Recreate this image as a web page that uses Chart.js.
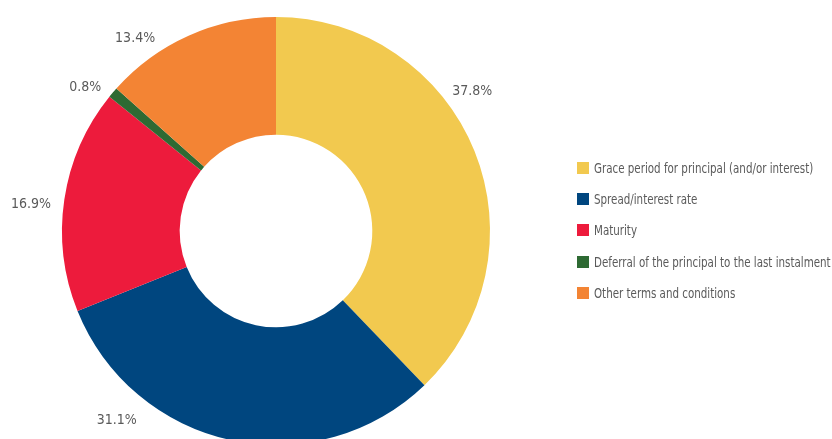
<!DOCTYPE html>
<html>
<head>
<meta charset="utf-8">
<script src="https://cdn.jsdelivr.net/npm/chart.js@4"></script>
<style>
  html, body { margin: 0; padding: 0; background: #fff; overflow: hidden; }
  #wrap { position: relative; width: 832px; height: 439px; overflow: hidden; }
  #chart { position: absolute; left: 0; top: 0; }
  #legend { position: absolute; left: 577px; top: 152px; width: 400px; margin: 0; padding: 0; list-style: none;
            font-family: "DejaVu Sans Condensed", "Liberation Sans Narrow", sans-serif;
            font-size: 14px; color: #5a5a5a; }
  #legend li { height: 31.3px; display: flex; align-items: center; white-space: nowrap; }
  #legend span.box { width: 12px; height: 12px; margin-right: 5px; flex: none; }
  #legend span.txt { flex: none; display: inline-block; transform: scaleX(0.818); transform-origin: 0 50%; }
</style>
</head>
<body>
<div id="wrap">
  <canvas id="chart" width="832" height="462"></canvas>
  <ul id="legend"></ul>
</div>
<script>
// Renegotiated credit terms, share of total (%)
const categories = [
  'Grace period for principal (and/or interest)',
  'Spread/interest rate',
  'Maturity',
  'Deferral of the principal to the last instalment',
  'Other terms and conditions',
];
const shares = [37.8, 31.1, 16.9, 0.8, 13.4];

const SLICE_COLORS = ['#F2C94F', '#00467F', '#ED1B3C', '#2E6A33', '#F38434'];
const TEXT_COLOR = '#5a5a5a';
const FONT = '"DejaVu Sans Condensed", "Liberation Sans Narrow", sans-serif';

// label placement per slice: angular shift from the slice centre (deg) and gap outside the ring (px)
const LABEL_SHIFT = [-13.5, 28, -2.2, -3.3, -12];
const LABEL_GAP = [27, 33.6, 32.5, 25, 25];

const outsideLabels = {
  id: 'outsideLabels',
  afterDatasetsDraw(chart) {
    const { ctx } = chart;
    const meta = chart.getDatasetMeta(0);
    ctx.save();
    ctx.font = '14px ' + FONT;
    ctx.fillStyle = TEXT_COLOR;
    ctx.textAlign = 'center';
    ctx.textBaseline = 'middle';
    meta.data.forEach((arc, i) => {
      const p = arc.getProps(['x', 'y', 'startAngle', 'endAngle', 'outerRadius'], true);
      const mid = (p.startAngle + p.endAngle) / 2 + LABEL_SHIFT[i] * Math.PI / 180;
      const r = p.outerRadius + LABEL_GAP[i];
      ctx.fillText(shares[i].toFixed(1) + '%', p.x + r * Math.cos(mid), p.y + r * Math.sin(mid));
    });
    ctx.restore();
  },
};

new Chart(document.getElementById('chart'), {
  type: 'doughnut',
  data: {
    labels: categories,
    datasets: [{
      data: shares,
      backgroundColor: SLICE_COLORS,
      borderWidth: 0,
      hoverOffset: 0,
    }],
  },
  options: {
    responsive: false,
    devicePixelRatio: 1,
    animation: false,
    cutout: '45%',
    layout: { padding: { left: 62, right: 342, top: 17, bottom: 17 } },
    plugins: {
      legend: { display: false },
      tooltip: { enabled: false },
    },
  },
  plugins: [outsideLabels],
});

// legend list beside the ring
const legend = document.getElementById('legend');
categories.forEach((name, i) => {
  const li = document.createElement('li');
  const box = document.createElement('span');
  box.className = 'box';
  box.style.background = SLICE_COLORS[i];
  const txt = document.createElement('span');
  txt.className = 'txt';
  txt.textContent = name;
  li.appendChild(box);
  li.appendChild(txt);
  legend.appendChild(li);
});
</script>
</body>
</html>
